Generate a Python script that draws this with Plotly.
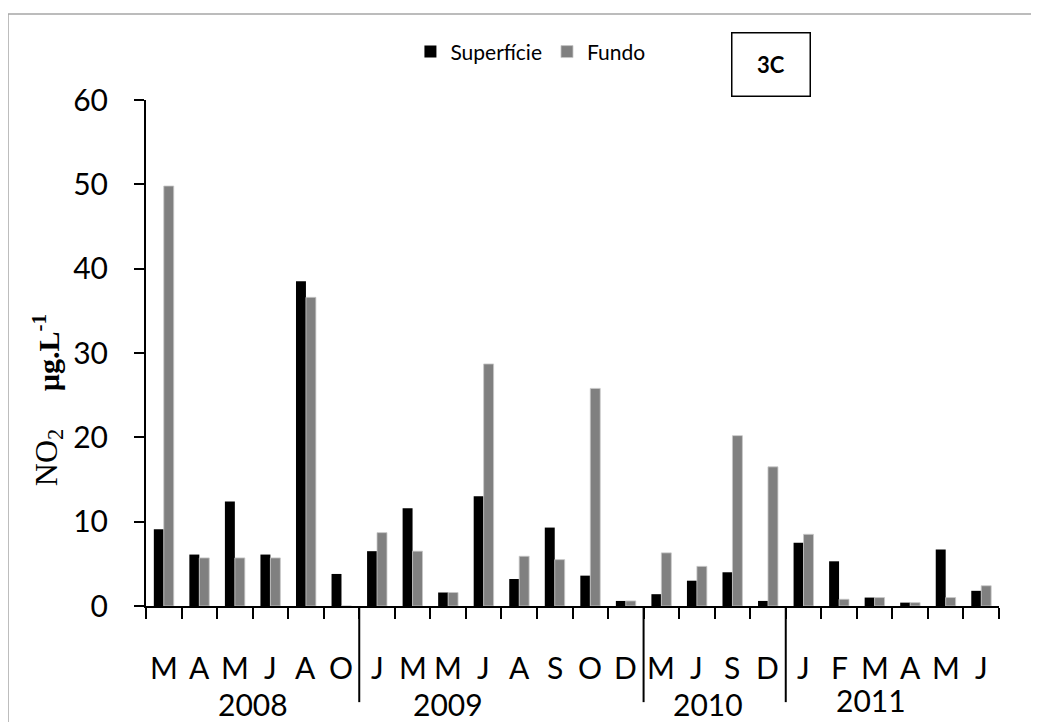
import plotly.graph_objects as go

# ---- data ----
months = ["M", "A", "M", "J", "A", "O",
          "J", "M", "M", "J", "A", "S", "O", "D",
          "M", "J", "S", "D",
          "J", "F", "M", "A", "M", "J"]
years = ["2008", "2009", "2010", "2011"]
group_sizes = [6, 8, 4, 6]
superficie = [9.1, 6.1, 12.4, 6.1, 38.5, 3.8,
              6.5, 11.6, 1.6, 13.0, 3.2, 9.3, 3.6, 0.6,
              1.4, 3.0, 4.0, 0.6,
              7.5, 5.3, 1.0, 0.4, 6.7, 1.8]
fundo = [49.8, 5.7, 5.7, 5.7, 36.6, 0.0,
         8.7, 6.5, 1.6, 28.7, 5.9, 5.5, 25.8, 0.6,
         6.3, 4.7, 20.2, 16.5,
         8.5, 0.8, 1.0, 0.4, 1.0, 2.4]
y_ticks = [0, 10, 20, 30, 40, 50, 60]

x = list(range(len(months)))
SANS = "Lato, 'Open Sans', sans-serif"
SERIF = "'Liberation Serif', 'DejaVu Serif', serif"

fig = go.Figure()
fig.add_trace(go.Bar(x=x, y=superficie, name="Superfície",
                     marker=dict(color="#000000", line=dict(width=0))))
fig.add_trace(go.Bar(x=x, y=fundo, name="Fundo",
                     marker=dict(color="#808080", line=dict(color="#c8c8c8", width=0.8))))

annotations = []
# month labels
for i, m in enumerate(months):
    annotations.append(dict(x=i, y=-0.121, xref="x", yref="paper", text=m,
                            showarrow=False, font=dict(family=SANS, size=30, color="#000"),
                            xanchor="center", yanchor="middle"))
# year labels and dividers
shapes = []
start = 0
year_shift = [0.0, -1.5, -0.2, -0.6]
year_y = [-0.194, -0.194, -0.194, -0.186]
for k, (yr, n) in enumerate(zip(years, group_sizes)):
    center = start + (n - 1) / 2 + year_shift[k]
    annotations.append(dict(x=center, y=year_y[k], xref="x", yref="paper", text=yr,
                            showarrow=False, font=dict(family=SANS, size=30, color="#000"),
                            xanchor="center", yanchor="middle"))
    end = start + n
    if k < len(years) - 1:
        shapes.append(dict(type="line", xref="x", yref="paper",
                           x0=end - 0.5, x1=end - 0.5, y0=0, y1=-0.19,
                           line=dict(color="#000", width=2)))
    start = end

# y-axis title (two parts)
annotations.append(dict(x=-0.115, y=0.294, xref="paper", yref="paper",
                        text="NO<sub>2</sub>", textangle=-90, showarrow=False,
                        font=dict(family=SERIF, size=32, color="#000"),
                        xanchor="center", yanchor="middle"))
annotations.append(dict(x=-0.117, y=0.50, xref="paper", yref="paper",
                        text="<b>µg.L<sup>-1</sup></b>", textangle=-90, showarrow=False,
                        font=dict(family=SERIF, size=30, color="#000"),
                        xanchor="center", yanchor="middle"))
# 3C box
annotations.append(dict(x=0.733, y=1.071, xref="paper", yref="paper",
                        text="<b>3C</b>", showarrow=False,
                        font=dict(family=SANS, size=22, color="#000"),
                        width=75, height=60, bordercolor="#000", borderwidth=1.5,
                        bgcolor="#fff", xanchor="center", yanchor="middle"))

# chart area border
shapes.append(dict(type="rect", xref="paper", yref="paper",
                   x0=-0.1618, x1=1.06, y0=-0.25, y1=1.170,
                   line=dict(color="#a6a6a6", width=1.5), layer="below"))

fig.update_layout(
    width=1031, height=714, autosize=False,
    margin=dict(l=138, r=40, t=92, b=116),
    paper_bgcolor="#fff", plot_bgcolor="#fff",
    barmode="group", bargap=0.44, bargroupgap=0,
    showlegend=True,
    legend=dict(orientation="h", x=0.31, y=1.095, xanchor="left", yanchor="middle",
                font=dict(family=SANS, size=21, color="#000"),
                bgcolor="rgba(0,0,0,0)", itemwidth=30, traceorder="normal"),
    xaxis=dict(range=[-0.5, len(months) - 0.5], showline=True, linecolor="#000", linewidth=2,
               tickmode="array", tickvals=[i - 0.5 for i in range(len(months) + 1)],
               ticks="outside", ticklen=11, tickwidth=2, tickcolor="#000",
               showticklabels=False, showgrid=False, zeroline=False, fixedrange=True),
    yaxis=dict(range=[0, 60], showline=True, linecolor="#000", linewidth=2,
               tickmode="array", tickvals=y_ticks,
               ticks="outside", ticklen=10, tickwidth=2, tickcolor="#000",
               ticklabelstandoff=20,
               tickfont=dict(family=SANS, size=30, color="#000"),
               showgrid=False, zeroline=False, fixedrange=True),
    annotations=annotations,
    shapes=shapes,
)

fig.write_html("out.html")
